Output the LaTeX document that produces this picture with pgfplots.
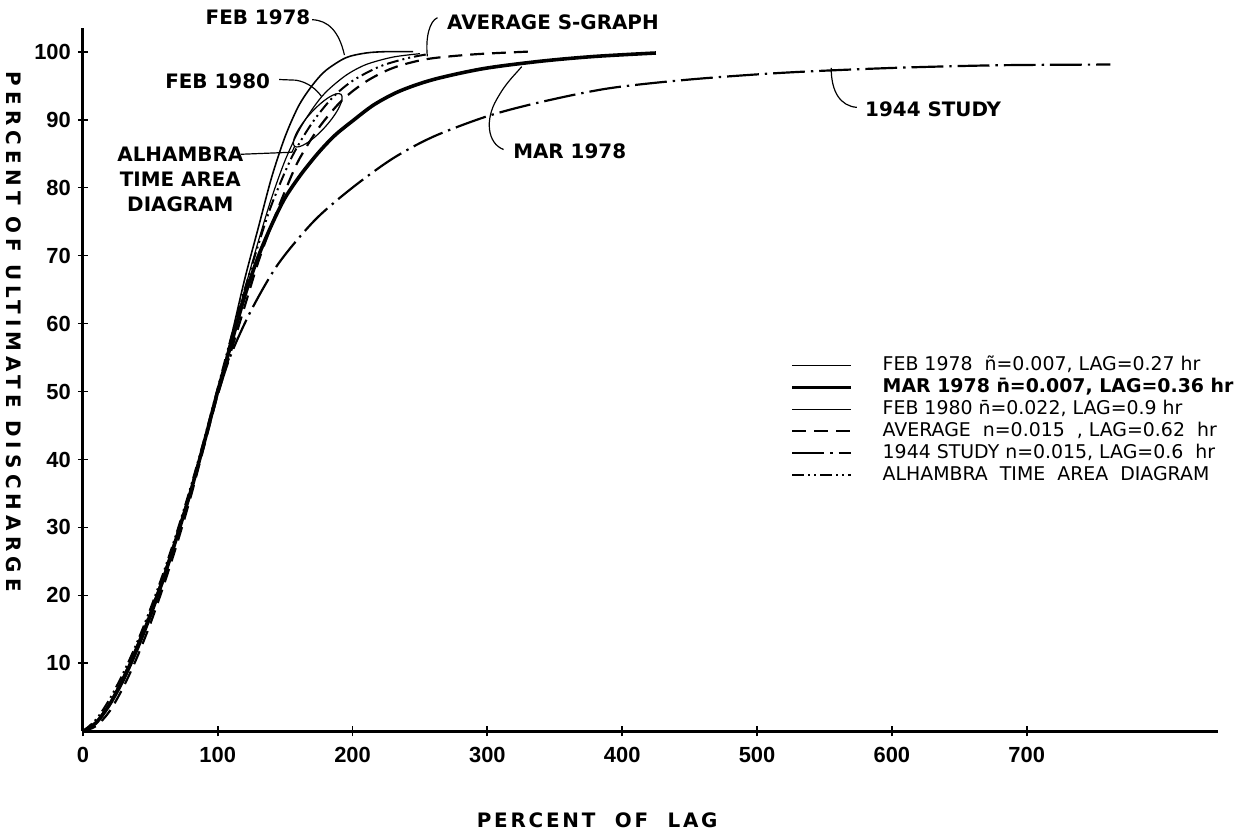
\documentclass[border=0pt]{standalone}
\usepackage{pgfplots}
\pgfplotsset{compat=1.18}
\usetikzlibrary{shapes.geometric}
\usepackage{fontspec}
\setmainfont{DejaVu Sans}
\newfontfamily\tickfont{Liberation Sans}
\newfontfamily\ylabfont[LetterSpace=26]{DejaVu Sans}
\newfontfamily\xlabfont[LetterSpace=14]{DejaVu Sans}
\begin{document}
\begin{tikzpicture}
\path (-38.5pt,-52pt) rectangle (590.5pt,367.5pt);
\begin{axis}[
  at={(0pt,0pt)}, anchor=south west,
  scale only axis, width=570.5pt, height=353.5pt,
  xmin=0, xmax=842, ymin=0, ymax=103.5,
  axis lines*=left, axis line style={-, line width=1.4pt},
  xtick={0,100,...,700}, ytick={10,20,...,100},
  tick align=center, major tick length=5pt, tick style={line width=0.9pt, black},
  /pgf/number format/assume math mode=true,
  ticklabel style={font=\tickfont\bfseries\fontsize{11}{13}\selectfont},
  xticklabel style={yshift=-2pt},
  xlabel={\xlabfont\bfseries\fontsize{10}{12}\selectfont PERCENT\ \ OF\ \ LAG},
  xlabel style={at={(rel axis cs:0.453,-0.126)}, anchor=center},
  ylabel={\ylabfont\bfseries\fontsize{10}{12}\selectfont PERCENT OF ULTIMATE DISCHARGE},
  ylabel style={at={(rel axis cs:-0.0605,0.568)}, anchor=center, rotate=180},
  clip=false,
  legend cell align=left,
  legend image code/.code={\draw[#1] (0pt,0pt) -- (29.5pt,0pt);},
  legend style={at={(0.623,0.536)}, anchor=north west, draw=none, fill=none,
    inner sep=0pt, row sep=0pt, font=\fontsize{9.5}{11}\selectfont,
    nodes={inner sep=1pt, text height=7pt, text depth=2pt},
    /tikz/every odd column/.append style={column sep=14pt}},
]
% FEB 1978
\addplot[black, line width=0.8pt, smooth, tension=0.5] coordinates {
(0,0) (10,1.4) (20,4.2) (30,8) (40,12.5) (50,17.5) (60,23) (70,29) (80,35.5) (90,42.5) (100,50) (110,58) (120,66.5) (130,74) (140,81.5) (150,87.5) (160,92) (170,95) (180,97.2) (195,99.1) (210,99.8) (225,100) (245,100)};
\addlegendentry{FEB 1978\ \ ñ=0.007, LAG=0.27 hr}
% MAR 1978
\addplot[black, line width=1.8pt, smooth, tension=0.5] coordinates {
(0,0) (10,1.3) (20,4) (30,7.6) (40,12) (50,17) (60,22.6) (70,28.8) (80,35.3) (90,42.5) (100,50) (110,57) (120,64) (130,69.8) (140,74.5) (150,78.5) (162,82) (175,85.2) (187,87.7) (200,89.8) (216,92.2) (235,94.2) (260,95.9) (297,97.5) (340,98.6) (380,99.3) (425,99.8)};
\addlegendentry{\bfseries MAR 1978 n̄=0.007, LAG=0.36 hr}
% FEB 1980
\addplot[black, line width=0.6pt, smooth, tension=0.5] coordinates {
(0,0) (10,1.2) (20,3.9) (30,7.4) (40,11.8) (50,16.8) (60,22.4) (70,28.6) (80,35.2) (90,42.4) (100,50) (110,57.5) (120,65) (130,72) (140,78.5) (150,84) (160,88.3) (170,91.5) (180,94) (195,96.5) (210,98.1) (230,99.2) (250,99.7)};
\addlegendentry{FEB 1980 n̄=0.022, LAG=0.9 hr}
% AVERAGE
\addplot[black, line width=1.1pt, dash pattern=on 7pt off 4pt, smooth, tension=0.5] coordinates {
(0,0) (10,0.8) (20,3) (30,6.5) (40,10.8) (50,15.8) (60,21.5) (70,27.7) (80,34.5) (90,42) (100,49.5) (110,56) (120,62.5) (130,69) (140,74.5) (150,79.5) (160,84) (175,88.8) (192,92.8) (210,95.6) (230,97.6) (255,98.9) (290,99.6) (330,100)};
\addlegendentry{AVERAGE\ \ n=0.015\ \ , LAG=0.62\ \ hr}
% 1944 STUDY
\addplot[black, line width=1.1pt, dash pattern=on 16pt off 3pt on 1.2pt off 3pt, smooth, tension=0.5] coordinates {
(0,0) (10,1.4) (20,4.2) (30,8) (40,12.5) (50,17.5) (60,23) (70,29) (80,35.5) (90,42.5) (100,49.5) (110,55.5) (125,62) (145,68.8) (172,75.2) (200,80) (230,84.3) (260,87.5) (300,90.5) (340,92.6) (390,94.6) (450,95.9) (520,96.9) (600,97.6) (680,98) (762,98.1)};
\addlegendentry{1944 STUDY n=0.015, LAG=0.6\ \ hr}
% ALHAMBRA
\addplot[black, line width=1pt, dash pattern=on 6pt off 2pt on 1pt off 2pt on 1pt off 2pt, smooth, tension=0.5] coordinates {
(0,0) (10,1.8) (20,4.8) (30,8.6) (40,13) (50,18) (60,23.5) (70,29.5) (80,36) (90,43) (100,50.5) (110,58) (120,65) (130,71.5) (140,77.5) (155,84.5) (170,89.5) (185,93.2) (200,95.7) (220,97.8) (240,99) (255,99.6)};
\addlegendentry{ALHAMBRA\ \ TIME\ \ AREA\ \ DIAGRAM}

% annotations
\begin{scope}[font=\bfseries\fontsize{10}{12.5}\selectfont]
\node at (axis cs:129.9,105) {FEB 1978};
\draw[line width=0.6pt] (axis cs:170,104.7) .. controls (axis cs:182,104.6) and (axis cs:190,103) .. (axis cs:194,99.5);
\node[anchor=west] at (axis cs:265,104.3) {AVERAGE S-GRAPH};
\draw[line width=0.6pt] (axis cs:263,105) .. controls (axis cs:257,104.5) and (axis cs:254,102) .. (axis cs:255.5,99.3);
\node[anchor=east] at (axis cs:144,95.6) {FEB 1980};
\draw[line width=0.6pt] (axis cs:145.5,95.9) -- (axis cs:158,95.8) .. controls (axis cs:167,95.5) and (axis cs:173,94.5) .. (axis cs:177,93.4);
\node[align=center] at (axis cs:72.3,81.25) {ALHAMBRA\\TIME AREA\\DIAGRAM};
\draw[line width=0.6pt] (axis cs:117.3,84.9) -- (axis cs:155,85.2) -- (axis cs:157.2,86.1);
\node[draw, ellipse, line width=0.6pt, rotate=48, minimum width=35pt, minimum height=10pt, inner sep=0pt] at (axis cs:174.2,89.9) {};
\node[anchor=west] at (axis cs:314,85.4) {MAR 1978};
\draw[line width=0.6pt] (axis cs:312,85.6) .. controls (axis cs:300,86.5) and (axis cs:298,90) .. (axis cs:307,93) .. controls (axis cs:314,95.5) and (axis cs:320,96.5) .. (axis cs:325.5,97.8);
\node[anchor=west] at (axis cs:575,91.5) {1944 STUDY};
\draw[line width=0.6pt] (axis cs:555,97.6) .. controls (axis cs:555,94) and (axis cs:562,92) .. (axis cs:574,91.8);
\end{scope}
\end{axis}
\end{tikzpicture}
\end{document}
